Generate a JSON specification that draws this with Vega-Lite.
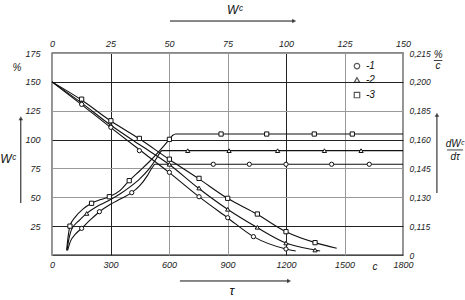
{
  "$schema": "https://vega.github.io/schema/vega-lite/v6.json",
  "width": 351,
  "height": 202,
  "autosize": "none",
  "padding": {"left": 52, "top": 53, "right": 62, "bottom": 45},
  "background": "white",
  "config": {
    "font": "Liberation Sans",
    "view": {"stroke": "#111", "strokeWidth": 1.3},
    "axis": {
      "labelFont": "Liberation Sans",
      "labelFontStyle": "italic",
      "labelFontSize": 9,
      "labelColor": "#222",
      "ticks": false,
      "domain": false,
      "grid": false,
      "title": null
    },
    "text": {"font": "Liberation Sans", "fontStyle": "italic", "color": "#111"}
  },
  "datasets": {
    "curves": [
      {"curve": "d3", "t": 0, "v": 150}, {"curve": "d3", "t": 150, "v": 134.5}, {"curve": "d3", "t": 300, "v": 116.3}, {"curve": "d3", "t": 450, "v": 100.5}, {"curve": "d3", "t": 600, "v": 83}, {"curve": "d3", "t": 750, "v": 66.4}, {"curve": "d3", "t": 900, "v": 49.1}, {"curve": "d3", "t": 1050, "v": 35.5}, {"curve": "d3", "t": 1200, "v": 20.2}, {"curve": "d3", "t": 1350, "v": 10.7}, {"curve": "d3", "t": 1460, "v": 5.8},
      {"curve": "d2", "t": 0, "v": 150}, {"curve": "d2", "t": 150, "v": 132}, {"curve": "d2", "t": 300, "v": 112.6}, {"curve": "d2", "t": 450, "v": 95.5}, {"curve": "d2", "t": 600, "v": 78.6}, {"curve": "d2", "t": 750, "v": 58}, {"curve": "d2", "t": 900, "v": 39.6}, {"curve": "d2", "t": 1050, "v": 24}, {"curve": "d2", "t": 1200, "v": 10.4}, {"curve": "d2", "t": 1350, "v": 4.3}, {"curve": "d2", "t": 1375, "v": 3.5},
      {"curve": "d1", "t": 0, "v": 150}, {"curve": "d1", "t": 150, "v": 130.5}, {"curve": "d1", "t": 300, "v": 110.6}, {"curve": "d1", "t": 450, "v": 91}, {"curve": "d1", "t": 600, "v": 71.6}, {"curve": "d1", "t": 750, "v": 51}, {"curve": "d1", "t": 900, "v": 32.3}, {"curve": "d1", "t": 1033, "v": 15.9}, {"curve": "d1", "t": 1200, "v": 5.2}, {"curve": "d1", "t": 1250, "v": 3.5},
      {"curve": "r3", "t": 75, "v": 4}, {"curve": "r3", "t": 82, "v": 15}, {"curve": "r3", "t": 92, "v": 25}, {"curve": "r3", "t": 120, "v": 33}, {"curve": "r3", "t": 160, "v": 40}, {"curve": "r3", "t": 203, "v": 44.8}, {"curve": "r3", "t": 250, "v": 48}, {"curve": "r3", "t": 294, "v": 50.5}, {"curve": "r3", "t": 350, "v": 56}, {"curve": "r3", "t": 396, "v": 64.4}, {"curve": "r3", "t": 450, "v": 73}, {"curve": "r3", "t": 500, "v": 81}, {"curve": "r3", "t": 550, "v": 90}, {"curve": "r3", "t": 602, "v": 100.2}, {"curve": "r3", "t": 618, "v": 103.5}, {"curve": "r3", "t": 635, "v": 104.8}, {"curve": "r3", "t": 1800, "v": 104.8},
      {"curve": "r2", "t": 77, "v": 4}, {"curve": "r2", "t": 88, "v": 15}, {"curve": "r2", "t": 100, "v": 22}, {"curve": "r2", "t": 140, "v": 30}, {"curve": "r2", "t": 178, "v": 36}, {"curve": "r2", "t": 230, "v": 42}, {"curve": "r2", "t": 289, "v": 47}, {"curve": "r2", "t": 350, "v": 53}, {"curve": "r2", "t": 400, "v": 59}, {"curve": "r2", "t": 450, "v": 66}, {"curve": "r2", "t": 500, "v": 75}, {"curve": "r2", "t": 537, "v": 84}, {"curve": "r2", "t": 555, "v": 89}, {"curve": "r2", "t": 565, "v": 90.4}, {"curve": "r2", "t": 1800, "v": 90.4},
      {"curve": "r1", "t": 80, "v": 4}, {"curve": "r1", "t": 95, "v": 12}, {"curve": "r1", "t": 120, "v": 18}, {"curve": "r1", "t": 152, "v": 23.1}, {"curve": "r1", "t": 200, "v": 31}, {"curve": "r1", "t": 243, "v": 37.5}, {"curve": "r1", "t": 300, "v": 44}, {"curve": "r1", "t": 350, "v": 48.5}, {"curve": "r1", "t": 409, "v": 54}, {"curve": "r1", "t": 450, "v": 60}, {"curve": "r1", "t": 490, "v": 69}, {"curve": "r1", "t": 515, "v": 76}, {"curve": "r1", "t": 528, "v": 78.6}, {"curve": "r1", "t": 1800, "v": 78.6}
    ],
    "markers": [
      {"series": "3", "t": 152, "v": 135}, {"series": "3", "t": 302, "v": 116.3}, {"series": "3", "t": 448, "v": 101}, {"series": "3", "t": 602, "v": 83}, {"series": "3", "t": 754, "v": 66.4}, {"series": "3", "t": 901, "v": 49.1}, {"series": "3", "t": 1053, "v": 35.5}, {"series": "3", "t": 1200, "v": 20.2}, {"series": "3", "t": 1349, "v": 10.7},
      {"series": "3", "t": 92, "v": 25}, {"series": "3", "t": 203, "v": 44.8}, {"series": "3", "t": 294, "v": 50.5}, {"series": "3", "t": 396, "v": 64.4}, {"series": "3", "t": 602, "v": 100.2},
      {"series": "3", "t": 867, "v": 104.8}, {"series": "3", "t": 1101, "v": 104.8}, {"series": "3", "t": 1345, "v": 104.8}, {"series": "3", "t": 1540, "v": 104.8},
      {"series": "2", "t": 152, "v": 132}, {"series": "2", "t": 302, "v": 112.6}, {"series": "2", "t": 602, "v": 78.6}, {"series": "2", "t": 754, "v": 58}, {"series": "2", "t": 901, "v": 39.6}, {"series": "2", "t": 1053, "v": 24}, {"series": "2", "t": 1200, "v": 10.4}, {"series": "2", "t": 1349, "v": 4.3},
      {"series": "2", "t": 178, "v": 36},
      {"series": "2", "t": 696, "v": 90.4}, {"series": "2", "t": 908, "v": 90.4}, {"series": "2", "t": 1157, "v": 90.4}, {"series": "2", "t": 1397, "v": 90.4}, {"series": "2", "t": 1585, "v": 90.4},
      {"series": "1", "t": 152, "v": 130.5}, {"series": "1", "t": 302, "v": 110.6}, {"series": "1", "t": 448, "v": 90.4}, {"series": "1", "t": 602, "v": 71.6}, {"series": "1", "t": 754, "v": 50.5}, {"series": "1", "t": 901, "v": 32.3}, {"series": "1", "t": 1033, "v": 15.9}, {"series": "1", "t": 1200, "v": 5.2},
      {"series": "1", "t": 152, "v": 23.1}, {"series": "1", "t": 243, "v": 37.5}, {"series": "1", "t": 409, "v": 54},
      {"series": "1", "t": 827, "v": 78.6}, {"series": "1", "t": 1012, "v": 78.6}, {"series": "1", "t": 1200, "v": 78.6}, {"series": "1", "t": 1434, "v": 78.6}, {"series": "1", "t": 1627, "v": 78.6}
    ]
  },
  "layer": [
    {
      "data": {"name": "curves"},
      "mark": {"type": "line", "interpolate": "monotone", "color": "#111", "strokeWidth": 1.1},
      "encoding": {
        "x": {"field": "t", "type": "quantitative", "scale": {"domain": [0, 1800], "nice": false},
          "axis": {"orient": "bottom", "values": [0, 300, 600, 900, 1200, 1500, 1800], "format": "d", "grid": true, "labelPadding": 5, "labelFlush": false,
            "gridColor": {"condition": {"test": "datum.value == 300 || datum.value == 1200", "value": "#222"}, "value": "#999"}, "gridWidth": 1, "gridOpacity": 1}},
        "y": {"field": "v", "type": "quantitative", "scale": {"domain": [0, 175], "nice": false},
          "axis": {"orient": "left", "values": [25, 50, 75, 100, 125, 150, 175], "grid": true, "labelPadding": 12, "labelFlush": false,
            "gridColor": {"condition": {"test": "datum.value == 150 || datum.value == 100 || datum.value == 25", "value": "#222"}, "value": "#999"}, "gridWidth": 1, "gridOpacity": 1}},
        "detail": {"field": "curve"}
      }
    },
    {
      "data": {"name": "curves"},
      "mark": {"type": "point", "opacity": 0},
      "encoding": {
        "x": {"field": "t", "type": "quantitative", "scale": {"domain": [0, 1800], "nice": false},
          "axis": {"orient": "top", "values": [0, 300, 600, 900, 1200, 1500, 1800], "labelExpr": "format(datum.value / 12, 'd')", "labelPadding": 5, "labelFlush": false}},
        "y": {"field": "v", "type": "quantitative", "scale": {"domain": [0, 175], "nice": false},
          "axis": {"orient": "right", "values": [0, 25, 50, 75, 100, 125, 150, 175], "labelPadding": 6, "labelFlush": false, "labelFontSize": 8.5,
            "labelExpr": "['0', '0,115', '0,130', '0,145', '0,160', '0,185', '0,200', '0,215'][round(datum.value / 25)]"}}
      }
    },
    {
      "data": {"name": "markers"},
      "mark": {"type": "point", "filled": true, "fill": "white", "stroke": "#111", "strokeWidth": 1, "size": 18, "opacity": 1},
      "encoding": {
        "x": {"field": "t", "type": "quantitative", "scale": {"domain": [0, 1800], "nice": false}, "axis": null},
        "y": {"field": "v", "type": "quantitative", "scale": {"domain": [0, 175], "nice": false}, "axis": null},
        "shape": {"field": "series", "type": "nominal", "scale": {"domain": ["1", "2", "3"], "range": ["circle", "triangle-up", "square"]}, "legend": null}
      }
    },
    {
      "data": {"values": [{}]},
      "mark": {"type": "point", "shape": "circle", "filled": true, "fill": "white", "stroke": "#111", "strokeWidth": 1.2, "size": 30},
      "encoding": {
        "x": {"datum": 1564, "type": "quantitative", "scale": {"domain": [0, 1800], "nice": false}, "axis": null},
        "y": {"datum": 163.7, "type": "quantitative", "scale": {"domain": [0, 175], "nice": false}, "axis": null}
      }
    },
    {
      "data": {"values": [{}]},
      "mark": {"type": "point", "shape": "triangle-up", "filled": true, "fill": "white", "stroke": "#111", "strokeWidth": 1.2, "size": 30},
      "encoding": {
        "x": {"datum": 1564, "type": "quantitative", "scale": {"domain": [0, 1800], "nice": false}, "axis": null},
        "y": {"datum": 151.6, "type": "quantitative", "scale": {"domain": [0, 175], "nice": false}, "axis": null}
      }
    },
    {
      "data": {"values": [{}]},
      "mark": {"type": "point", "shape": "square", "filled": true, "fill": "white", "stroke": "#111", "strokeWidth": 1.2, "size": 30},
      "encoding": {
        "x": {"datum": 1564, "type": "quantitative", "scale": {"domain": [0, 1800], "nice": false}, "axis": null},
        "y": {"datum": 138.6, "type": "quantitative", "scale": {"domain": [0, 175], "nice": false}, "axis": null}
      }
    },
    {
      "data": {"values": [{}]},
      "mark": {"type": "text", "text": "-1", "fontSize": 10, "align": "left"},
      "encoding": {
        "x": {"datum": 1610, "type": "quantitative", "scale": {"domain": [0, 1800], "nice": false}, "axis": null},
        "y": {"datum": 163.7, "type": "quantitative", "scale": {"domain": [0, 175], "nice": false}, "axis": null}
      }
    },
    {
      "data": {"values": [{}]},
      "mark": {"type": "text", "text": "-2", "fontSize": 10, "align": "left"},
      "encoding": {
        "x": {"datum": 1610, "type": "quantitative", "scale": {"domain": [0, 1800], "nice": false}, "axis": null},
        "y": {"datum": 151.6, "type": "quantitative", "scale": {"domain": [0, 175], "nice": false}, "axis": null}
      }
    },
    {
      "data": {"values": [{}]},
      "mark": {"type": "text", "text": "-3", "fontSize": 10, "align": "left"},
      "encoding": {
        "x": {"datum": 1610, "type": "quantitative", "scale": {"domain": [0, 1800], "nice": false}, "axis": null},
        "y": {"datum": 138.6, "type": "quantitative", "scale": {"domain": [0, 175], "nice": false}, "axis": null}
      }
    },
    {
      "data": {"values": [{}]},
      "mark": {"type": "text", "text": "Wᶜ", "fontSize": 12},
      "encoding": {
        "x": {"datum": 938, "type": "quantitative", "scale": {"domain": [0, 1800], "nice": false}, "axis": null},
        "y": {"datum": 212, "type": "quantitative", "scale": {"domain": [0, 175], "nice": false}, "axis": null}
      }
    },
    {
      "data": {"values": [{}]},
      "mark": {"type": "rule", "color": "#111", "strokeWidth": 1},
      "encoding": {
        "x": {"datum": 605, "type": "quantitative", "scale": {"domain": [0, 1800], "nice": false}, "axis": null},
        "x2": {"datum": 1240},
        "y": {"datum": 202.7, "type": "quantitative", "scale": {"domain": [0, 175], "nice": false}, "axis": null}
      }
    },
    {
      "data": {"values": [{}]},
      "mark": {"type": "point", "shape": "triangle-right", "filled": true, "color": "#111", "size": 22},
      "encoding": {
        "x": {"datum": 1242, "type": "quantitative", "scale": {"domain": [0, 1800], "nice": false}, "axis": null},
        "y": {"datum": 202.7, "type": "quantitative", "scale": {"domain": [0, 175], "nice": false}, "axis": null}
      }
    },
    {
      "data": {"values": [{}]},
      "mark": {"type": "text", "text": "τ", "fontSize": 13},
      "encoding": {
        "x": {"datum": 923, "type": "quantitative", "scale": {"domain": [0, 1800], "nice": false}, "axis": null},
        "y": {"datum": -31.5, "type": "quantitative", "scale": {"domain": [0, 175], "nice": false}, "axis": null}
      }
    },
    {
      "data": {"values": [{}]},
      "mark": {"type": "rule", "color": "#111", "strokeWidth": 1},
      "encoding": {
        "x": {"datum": 656, "type": "quantitative", "scale": {"domain": [0, 1800], "nice": false}, "axis": null},
        "x2": {"datum": 1214},
        "y": {"datum": -22.5, "type": "quantitative", "scale": {"domain": [0, 175], "nice": false}, "axis": null}
      }
    },
    {
      "data": {"values": [{}]},
      "mark": {"type": "point", "shape": "triangle-right", "filled": true, "color": "#111", "size": 22},
      "encoding": {
        "x": {"datum": 1216, "type": "quantitative", "scale": {"domain": [0, 1800], "nice": false}, "axis": null},
        "y": {"datum": -22.5, "type": "quantitative", "scale": {"domain": [0, 175], "nice": false}, "axis": null}
      }
    },
    {
      "data": {"values": [{}]},
      "mark": {"type": "text", "text": "c", "fontSize": 10},
      "encoding": {
        "x": {"datum": 1656, "type": "quantitative", "scale": {"domain": [0, 1800], "nice": false}, "axis": null},
        "y": {"datum": -10, "type": "quantitative", "scale": {"domain": [0, 175], "nice": false}, "axis": null}
      }
    },
    {
      "data": {"values": [{}]},
      "mark": {"type": "text", "text": "Wᶜ", "fontSize": 12},
      "encoding": {
        "x": {"datum": -225, "type": "quantitative", "scale": {"domain": [0, 1800], "nice": false}, "axis": null},
        "y": {"datum": 83, "type": "quantitative", "scale": {"domain": [0, 175], "nice": false}, "axis": null}
      }
    },
    {
      "data": {"values": [{}]},
      "mark": {"type": "rule", "color": "#111", "strokeWidth": 1},
      "encoding": {
        "x": {"datum": -160, "type": "quantitative", "scale": {"domain": [0, 1800], "nice": false}, "axis": null},
        "y": {"datum": 45, "type": "quantitative", "scale": {"domain": [0, 175], "nice": false}, "axis": null},
        "y2": {"datum": 118}
      }
    },
    {
      "data": {"values": [{}]},
      "mark": {"type": "point", "shape": "triangle-up", "filled": true, "color": "#111", "size": 22},
      "encoding": {
        "x": {"datum": -160, "type": "quantitative", "scale": {"domain": [0, 1800], "nice": false}, "axis": null},
        "y": {"datum": 118.5, "type": "quantitative", "scale": {"domain": [0, 175], "nice": false}, "axis": null}
      }
    },
    {
      "data": {"values": [{}]},
      "mark": {"type": "text", "text": "%", "fontSize": 10},
      "encoding": {
        "x": {"datum": -180, "type": "quantitative", "scale": {"domain": [0, 1800], "nice": false}, "axis": null},
        "y": {"datum": 162, "type": "quantitative", "scale": {"domain": [0, 175], "nice": false}, "axis": null}
      }
    },
    {
      "data": {"values": [{}]},
      "mark": {"type": "text", "text": "%", "fontSize": 10},
      "encoding": {
        "x": {"datum": 1980, "type": "quantitative", "scale": {"domain": [0, 1800], "nice": false}, "axis": null},
        "y": {"datum": 173.5, "type": "quantitative", "scale": {"domain": [0, 175], "nice": false}, "axis": null}
      }
    },
    {
      "data": {"values": [{}]},
      "mark": {"type": "rule", "color": "#111", "strokeWidth": 0.8},
      "encoding": {
        "x": {"datum": 1958, "type": "quantitative", "scale": {"domain": [0, 1800], "nice": false}, "axis": null},
        "x2": {"datum": 2002},
        "y": {"datum": 168.5, "type": "quantitative", "scale": {"domain": [0, 175], "nice": false}, "axis": null}
      }
    },
    {
      "data": {"values": [{}]},
      "mark": {"type": "text", "text": "c", "fontSize": 10},
      "encoding": {
        "x": {"datum": 1980, "type": "quantitative", "scale": {"domain": [0, 1800], "nice": false}, "axis": null},
        "y": {"datum": 163.5, "type": "quantitative", "scale": {"domain": [0, 175], "nice": false}, "axis": null}
      }
    },
    {
      "data": {"values": [{}]},
      "mark": {"type": "text", "text": "dWᶜ", "fontSize": 10},
      "encoding": {
        "x": {"datum": 2067, "type": "quantitative", "scale": {"domain": [0, 1800], "nice": false}, "axis": null},
        "y": {"datum": 96.5, "type": "quantitative", "scale": {"domain": [0, 175], "nice": false}, "axis": null}
      }
    },
    {
      "data": {"values": [{}]},
      "mark": {"type": "rule", "color": "#111", "strokeWidth": 0.8},
      "encoding": {
        "x": {"datum": 2026, "type": "quantitative", "scale": {"domain": [0, 1800], "nice": false}, "axis": null},
        "x2": {"datum": 2108},
        "y": {"datum": 91, "type": "quantitative", "scale": {"domain": [0, 175], "nice": false}, "axis": null}
      }
    },
    {
      "data": {"values": [{}]},
      "mark": {"type": "text", "text": "dτ", "fontSize": 10},
      "encoding": {
        "x": {"datum": 2067, "type": "quantitative", "scale": {"domain": [0, 1800], "nice": false}, "axis": null},
        "y": {"datum": 85, "type": "quantitative", "scale": {"domain": [0, 175], "nice": false}, "axis": null}
      }
    },
    {
      "data": {"values": [{}]},
      "mark": {"type": "rule", "color": "#111", "strokeWidth": 1},
      "encoding": {
        "x": {"datum": 1974, "type": "quantitative", "scale": {"domain": [0, 1800], "nice": false}, "axis": null},
        "y": {"datum": 53.7, "type": "quantitative", "scale": {"domain": [0, 175], "nice": false}, "axis": null},
        "y2": {"datum": 121}
      }
    },
    {
      "data": {"values": [{}]},
      "mark": {"type": "point", "shape": "triangle-up", "filled": true, "color": "#111", "size": 22},
      "encoding": {
        "x": {"datum": 1974, "type": "quantitative", "scale": {"domain": [0, 1800], "nice": false}, "axis": null},
        "y": {"datum": 121.5, "type": "quantitative", "scale": {"domain": [0, 175], "nice": false}, "axis": null}
      }
    }
  ],
  "resolve": {"axis": {"x": "independent", "y": "independent"}}
}
